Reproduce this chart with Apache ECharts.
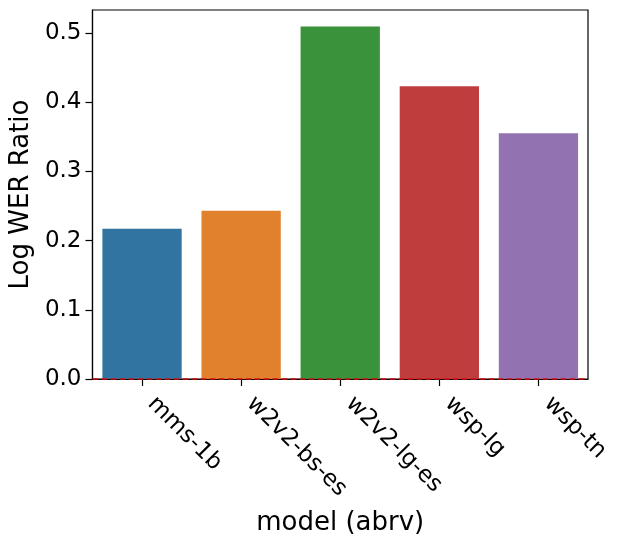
<!DOCTYPE html>
<html>
<head>
<meta charset="utf-8">
<script src="https://cdn.jsdelivr.net/npm/echarts@6/dist/echarts.min.js"></script>
<style>html,body{margin:0;padding:0;background:#fff}#c{width:623px;height:548px}</style>
</head>
<body>
<div id="c"></div>
<script>
const categories = ['mms-1b', 'w2v2-bs-es', 'w2v2-lg-es', 'wsp-lg', 'wsp-tn'];
const values = [0.217, 0.243, 0.509, 0.423, 0.355];
const barColors = ['#3274a1', '#e1812c', '#3a923a', '#c03d3e', '#9372b2'];
const yTicks = [0.0, 0.1, 0.2, 0.3, 0.4, 0.5];
const yMax = 0.533;

const chart = echarts.init(document.getElementById('c'), null, {renderer: 'canvas'});
const font = 'DejaVu Sans';
chart.setOption({
  animation: false,
  backgroundColor: '#fff',
  grid: {left: 91, right: 35, top: 10, bottom: 169, show: true, borderColor: '#000', borderWidth: 1.2, backgroundColor: 'transparent'},
  xAxis: {
    type: 'category',
    data: categories,
    name: 'model (abrv)',
    nameLocation: 'middle',
    nameGap: 131,
    nameTextStyle: {fontFamily: font, fontSize: 26, color: '#000'},
    axisLine: {show: true, lineStyle: {color: '#000', width: 1.2}},
    axisTick: {show: true, alignWithLabel: true, length: 7, lineStyle: {color: '#000', width: 1.2}},
    axisLabel: {rotate: -45, interval: 0, margin: 12, padding: [0, 0, 0, 13], fontFamily: font, fontSize: 23, color: '#000'},
    splitLine: {show: false}
  },
  yAxis: {
    type: 'value',
    min: 0,
    max: yMax,
    name: 'Log WER Ratio',
    nameLocation: 'middle',
    nameGap: 57,
    nameTextStyle: {fontFamily: font, fontSize: 26, color: '#000'},
    axisLine: {show: true, lineStyle: {color: '#000', width: 1.2}},
    axisTick: {show: true, length: 7, customValues: yTicks, lineStyle: {color: '#000', width: 1.2}},
    axisLabel: {customValues: yTicks, margin: 11, fontFamily: font, fontSize: 23, color: '#000', formatter: v => v.toFixed(1)},
    splitLine: {show: false}
  },
  series: [{
    type: 'bar',
    data: values.map((v, i) => ({value: v, itemStyle: {color: barColors[i]}})),
    barCategoryGap: '20%',
    markLine: {
      silent: true,
      symbol: 'none',
      label: {show: false},
      lineStyle: {color: '#cc1111', type: [6, 3], width: 1.5},
      data: [{yAxis: 0}]
    }
  }]
});
</script>
</body>
</html>
